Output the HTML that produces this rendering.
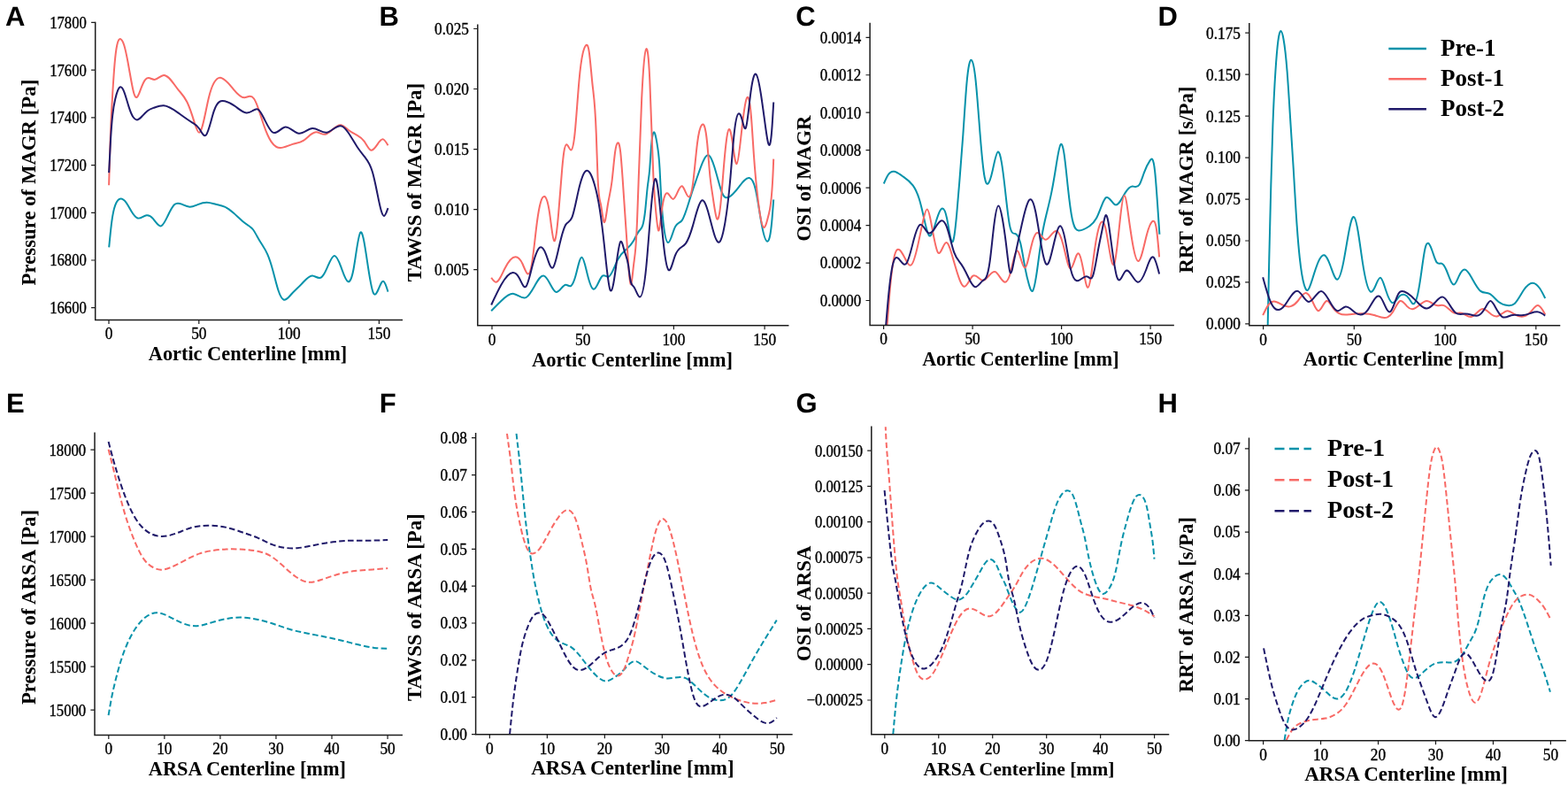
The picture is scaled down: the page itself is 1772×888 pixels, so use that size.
<!DOCTYPE html><html><head><meta charset="utf-8"><title>Figure</title><style>html,body{margin:0;padding:0;background:#fff}svg{display:block}.tk{font-family:"Liberation Serif",serif;font-size:17.3px;fill:#000;stroke:#000;stroke-width:0.35px}.lb{font-family:"Liberation Serif",serif;font-weight:bold;fill:#000}.lt{font-family:"Liberation Sans",sans-serif;font-weight:bold;font-size:31px;fill:#000;text-rendering:geometricPrecision}.ax{stroke:#1c1c1c;stroke-width:1.5;fill:none;stroke-linecap:square}.tm{stroke:#1c1c1c;stroke-width:1.2;fill:none}.cv{fill:none;stroke-width:2;stroke-linejoin:round}.ds{stroke-dasharray:6.6 3.3}</style></head><body>
<svg width="1772" height="888" viewBox="0 0 1772 888">
<rect width="1772" height="888" fill="#fff"/>
<defs>
<clipPath id="cA"><rect x="107.7" y="25.4" width="346.6" height="336.1"/></clipPath>
<clipPath id="cB"><rect x="539.8" y="28.2" width="350.9" height="339.6"/></clipPath>
<clipPath id="cC"><rect x="983.1" y="26.5" width="343" height="341.1"/></clipPath>
<clipPath id="cD"><rect x="1411.8" y="26.7" width="350.7" height="341"/></clipPath>
<clipPath id="cE"><rect x="107" y="489.3" width="347.2" height="341.3"/></clipPath>
<clipPath id="cF"><rect x="537.6" y="489.7" width="357.3" height="340"/></clipPath>
<clipPath id="cG"><rect x="984.8" y="482.3" width="335.7" height="347.4"/></clipPath>
<clipPath id="cH"><rect x="1411.5" y="495.3" width="357.6" height="341.4"/></clipPath>
</defs>
<g><g clip-path="url(#cA)"><path class="cv" stroke="#0792aa" d="M123.2 279.3C124.2 268.95 125.2 258.61 126.2 251C127.57 240.6 128.93 235.31 130.3 231.7C132.33 226.33 134.37 224.67 136.4 224.6C138.4 224.53 140.4 226.01 142.4 228.7C144.43 231.44 146.47 235.43 148.5 238.8C150.87 242.72 153.23 245.8 155.6 246.5C158.97 247.5 162.33 243.68 165.7 243.2C168.07 242.86 170.43 244.17 172.8 246.9C175.87 250.44 178.93 256.36 182 255.4C184.37 254.66 186.73 249.83 189.1 244.9C191.8 239.28 194.5 233.53 197.2 231.1C199.9 228.67 202.6 229.55 205.3 230.7C208.33 231.99 211.37 233.62 214.4 233.7C217.43 233.78 220.47 232.32 223.5 231.1C226.9 229.73 230.3 228.67 233.7 228.7C237.07 228.73 240.43 229.85 243.8 230.7C247.17 231.55 250.53 232.14 253.9 233.7C257.3 235.27 260.7 237.83 264.1 240.8C267.47 243.74 270.83 247.1 274.2 249.9C276.9 252.15 279.6 254.04 282.3 256C283.57 256.92 284.83 257.85 286.1 259.5C287.4 261.19 288.7 263.63 290 266C291.4 268.56 292.8 271.04 294.2 273.3C296.9 277.66 299.6 281.2 302.3 287.4C304.33 292.07 306.37 298.25 308.4 305.7C310.43 313.15 312.47 321.86 314.5 328C316.5 334.04 318.5 337.59 320.5 338.5C323.23 339.75 325.97 336.08 328.7 333C332.73 328.46 336.77 325.21 340.8 320.9C344.87 316.56 348.93 311.15 353 311.4C356.37 311.61 359.73 315.7 363.1 313.4C365.13 312.01 367.17 308.28 369.2 303.7C372.03 297.32 374.87 289.27 377.7 288.9C380.27 288.56 382.83 294.52 385.4 301.6C388.1 309.05 390.8 317.73 393.5 318.3C395.53 318.73 397.57 314.56 399.6 303.7C402.17 289.99 404.73 265.62 407.3 262.7C409.47 260.23 411.63 273.05 413.8 287.4C416.5 305.28 419.2 325.55 421.9 331C423.93 335.11 425.97 330.81 428 326C429.83 321.66 431.67 316.9 433.5 317.8C435.17 318.62 436.83 324.11 438.5 329.6"/><path class="cv" stroke="#f86a66" d="M123.1 209.3C123.63 190.43 124.17 171.56 124.7 156.6C125.53 133.22 126.37 119.38 127.2 106C128 93.15 128.8 80.72 129.6 71.5C130.47 61.51 131.33 55.3 132.2 51.2C133.57 44.74 134.93 43.53 136.3 44.1C137.63 44.66 138.97 46.9 140.3 51.2C141.67 55.61 143.03 62.17 144.4 69.5C145.73 76.65 147.07 84.52 148.4 91.8C149.43 97.44 150.47 102.73 151.5 106C152.5 109.17 153.5 110.45 154.5 110C155.87 109.39 157.23 105.56 158.6 101.9C160.3 97.35 162 93.08 163.7 90.7C165.03 88.83 166.37 88.13 167.7 88.1C169.97 88.05 172.23 89.94 174.5 89.9C178 89.84 181.5 85.19 185 84.9C190.4 84.45 195.8 94.37 201.2 101.1C204.6 105.34 208 108.31 211.4 115.3C214.1 120.85 216.8 128.93 219.5 137.6C221.37 143.59 223.23 149.86 225.1 149.7C228.63 149.39 232.17 126.02 235.7 111.2C240.43 91.35 245.17 86.86 249.9 87.9C254.6 88.93 259.3 95.41 264 101.1C268.07 106.03 272.13 110.37 276.2 110.2C278.23 110.12 280.27 108.9 282.3 108.8C283.87 108.72 285.43 109.3 287 111.5C288.73 113.94 290.47 118.36 292.2 123.4C294.2 129.21 296.2 135.84 298.2 141.6C300.93 149.47 303.67 155.7 306.4 159.9C308.4 162.97 310.4 164.95 312.4 166C315.1 167.41 317.8 167.13 320.5 166.4C323.9 165.48 327.3 163.87 330.7 162.9C334.73 161.75 338.77 161.51 342.8 158.9C347.53 155.84 352.27 149.51 357 149.3C360.4 149.15 363.8 152.15 367.2 151.8C369.9 151.52 372.6 149.13 375.3 146.7C378.67 143.67 382.03 140.59 385.4 141.2C388.1 141.69 390.8 144.56 393.5 146.7C396.9 149.4 400.3 150.94 403.7 152.8C406.4 154.27 409.1 155.94 411.8 159.9C414.17 163.37 416.53 168.59 418.9 169.6C421.27 170.61 423.63 167.39 426 163.9C428.33 160.46 430.67 156.75 433 157.4C434.83 157.91 436.67 161.1 438.5 164.3"/><path class="cv" stroke="#201a6a" d="M123.1 195.1C123.77 181.33 124.43 167.56 125.1 156.6C125.8 145.09 126.5 136.68 127.2 130.3C128.2 121.19 129.2 116.23 130.2 112C131.2 107.77 132.2 104.28 133.2 101.9C134.23 99.44 135.27 98.17 136.3 98.2C137.63 98.24 138.97 100.44 140.3 103.9C142 108.31 143.7 114.74 145.4 120.1C147.1 125.46 148.8 129.73 150.5 132.3C152.17 134.82 153.83 135.7 155.5 135.3C157.2 134.89 158.9 133.14 160.6 131.3C162.63 129.1 164.67 126.76 166.7 125.2C169.07 123.38 171.43 122.62 173.8 121.8C177.53 120.51 181.27 119.07 185 119.3C190.4 119.64 195.8 123.47 201.2 127.4C206.6 131.33 212 135.37 217.4 138.6C220.1 140.21 222.8 141.62 225.5 145.7C227.87 149.27 230.23 154.9 232.6 152.8C235.67 150.08 238.73 134.39 241.8 125.4C245.83 113.58 249.87 113.36 253.9 114.3C257.97 115.24 262.03 117.36 266.1 120.3C270.17 123.24 274.23 126.99 278.3 127.4C280.53 127.63 282.77 126.85 285 125.5C287.03 124.27 289.07 122.57 291.1 123.4C293.47 124.36 295.83 128.75 298.2 133.5C301.6 140.32 305 147.88 308.4 149.7C312.8 152.06 317.2 144.81 321.6 143.7C327 142.34 332.4 150.22 337.8 150.8C342.87 151.35 347.93 145.47 353 145.1C358.4 144.7 363.8 150.55 369.2 149.7C374.93 148.8 380.67 140.34 386.4 142.6C388.77 143.53 391.13 146.29 393.5 149.7C396.9 154.6 400.3 160.86 403.7 166C406.73 170.58 409.77 174.28 412.8 178.1C415.5 181.5 418.2 185.01 420.9 194.2C422.6 199.99 424.3 208.03 426 216.5C427.67 224.81 429.33 233.53 431 238.8C432.03 242.07 433.07 244.02 434.1 243.9C435.57 243.74 437.03 239.42 438.5 235.1"/></g><path class="ax" d="M107.7 25.4V361.5H454.3"/><path class="tm" d="M123 361.5v4.5M224.8 361.5v4.5M326.6 361.5v4.5M428.4 361.5v4.5M107.7 25.4h-4.6M107.7 79.12h-4.6M107.7 132.84h-4.6M107.7 186.56h-4.6M107.7 240.28h-4.6M107.7 294h-4.6M107.7 347.72h-4.6"/><text class="tk" transform="translate(123 383.3) scale(1.0 1.07)" text-anchor="middle">0</text><text class="tk" transform="translate(224.8 383.3) scale(1.0 1.07)" text-anchor="middle">50</text><text class="tk" transform="translate(326.6 383.3) scale(1.0 1.07)" text-anchor="middle">100</text><text class="tk" transform="translate(428.4 383.3) scale(1.0 1.07)" text-anchor="middle">150</text><text class="tk" transform="translate(97.9 31.8) scale(0.965 1.07)" text-anchor="end">17800</text><text class="tk" transform="translate(97.9 85.52) scale(0.965 1.07)" text-anchor="end">17600</text><text class="tk" transform="translate(97.9 139.24) scale(0.965 1.07)" text-anchor="end">17400</text><text class="tk" transform="translate(97.9 192.96) scale(0.965 1.07)" text-anchor="end">17200</text><text class="tk" transform="translate(97.9 246.68) scale(0.965 1.07)" text-anchor="end">17000</text><text class="tk" transform="translate(97.9 300.4) scale(0.965 1.07)" text-anchor="end">16800</text><text class="tk" transform="translate(97.9 354.12) scale(0.965 1.07)" text-anchor="end">16600</text><text class="lb" style="font-size:22.34px" x="280" y="406.8" text-anchor="middle">Aortic Centerline [mm]</text><text class="lb" style="font-size:22.8px" transform="translate(39.6 206.1) rotate(-90)" x="0" y="0" text-anchor="middle">Pressure of MAGR [Pa]</text><text class="lt" x="6" y="29.4">A</text></g>
<g><g clip-path="url(#cB)"><path class="cv" stroke="#0792aa" d="M555.2 351.2C558.93 347.41 562.67 343.63 566.4 340C571.1 335.43 575.8 331.12 580.5 331.9C585.23 332.68 589.97 338.63 594.7 336C598.1 334.11 601.5 327.8 604.9 321.8C608.13 316.1 611.37 310.67 614.6 311.6C616.77 312.22 618.93 315.69 621.1 319.7C623.47 324.08 625.83 329.1 628.2 329.9C631.9 331.14 635.6 322.05 639.3 321.8C641.33 321.66 643.37 324.19 645.4 322.8C647.1 321.63 648.8 317.73 650.5 311.6C652.87 303.07 655.23 290.25 657.6 290.7C659.63 291.09 661.67 301.28 663.7 309.6C666.07 319.29 668.43 326.45 670.8 326.8C674.17 327.29 677.53 314 680.9 311.6C683.27 309.92 685.63 313.62 688 312.6C691.37 311.15 694.73 300.14 698.1 293.4C701.5 286.59 704.9 284.12 708.3 281.2C710.87 278.99 713.43 276.53 716 272C718.07 268.36 720.13 263.38 722.2 261C724.57 258.28 726.93 258.97 729.3 236.6C730.17 228.41 731.03 217.12 731.9 210C732.7 203.43 733.5 200.4 734.3 190C734.7 184.8 735.1 177.75 735.5 172C737 150.42 738.5 146.98 740 150.6C741.13 153.33 742.27 160.1 743.4 167.8C744.1 172.56 744.8 177.67 745.5 190C745.83 195.87 746.17 203.38 746.5 210C747.5 229.87 748.5 241.81 749.5 250.8C751.33 267.28 753.17 273.85 755 274.1C757.57 274.45 760.13 262.4 762.7 256.9C765.4 251.11 768.1 252.57 770.8 248.8C774.2 244.05 777.6 231.03 781 220.4C782.17 216.75 783.33 213.39 784.5 210C786.83 203.22 789.17 196.32 791.5 190C794.73 181.24 797.97 173.56 801.2 175.6C803.23 176.88 805.27 182 807.3 188.5C809.33 195 811.37 202.89 813.4 210C814.07 212.33 814.73 214.58 815.4 216.4C818.1 223.76 820.8 224.04 823.5 222.8C827.57 220.94 831.63 215.64 835.7 210.3C839.4 205.44 843.1 200.53 846.8 201.1C849.17 201.46 851.53 204.06 853.9 214.3C856.27 224.54 858.63 242.41 861 254.9C863.03 265.63 865.07 272.38 867.1 272.7C868.8 272.96 870.5 268.73 872.2 250.8C872.87 243.77 873.53 234.64 874.2 225.5"/><path class="cv" stroke="#f86a66" d="M555.2 313.7C556.9 316.13 558.6 318.57 560.3 318.7C563.67 318.96 567.03 310.21 570.4 303.5C574.47 295.4 578.53 290.29 582.6 290.3C585.3 290.3 588 292.56 590.7 298.5C592.73 302.97 594.77 309.54 596.8 309.6C598.13 309.64 599.47 306.89 600.8 299.5C602.83 288.23 604.87 266.17 606.9 250.8C609.73 229.38 612.57 220.92 615.4 222C617.3 222.72 619.2 227.73 621.1 240.7C622.8 252.31 624.5 270.3 626.2 272.1C627.87 273.87 629.53 260.08 631.2 240.7C632.57 224.81 633.93 205.16 635.3 190C635.97 182.61 636.63 176.28 637.3 171.9C638.3 165.33 639.3 163.14 640.3 163.2C642 163.31 643.7 169.93 645.4 169.5C646.77 169.16 648.13 164.26 649.5 151.6C651.17 136.16 652.83 109.18 654.5 90.8C655.87 75.73 657.23 66.45 658.6 60.4C659.73 55.38 660.87 52.58 662 51.3C663.23 49.9 664.47 50.3 665.7 58.4C667.03 67.16 668.37 84.91 669.7 96.9C671.07 109.19 672.43 115.41 673.8 151.6C674.37 166.6 674.93 186.76 675.5 200C676.63 226.48 677.77 225.29 678.9 230.5C680.1 236.01 681.3 248.69 682.5 250.8C684 253.44 685.5 239.57 687 230.5C688.5 221.43 690 217.16 691.5 205C692.7 195.27 693.9 180.48 695.1 171.9C696.1 164.75 697.1 161.9 698.1 161.4C699.13 160.88 700.17 162.86 701.2 171.9C701.97 178.61 702.73 189.19 703.5 200C705.1 222.55 706.7 246.05 708.3 271.1C709.93 296.67 711.57 323.85 713.2 321C714.13 319.37 715.07 307.93 716 300C716.77 293.49 717.53 289.34 718.3 280C718.87 273.09 719.43 263.35 720 250C720.6 235.86 721.2 217.69 721.8 200C722.93 166.59 724.07 134.92 725.2 111.1C726.9 75.37 728.6 57.29 730.3 55.3C731.63 53.74 732.97 62.08 734.3 90.8C735.67 120.23 737.03 171.07 738.4 200C739.4 221.17 740.4 230.6 741.4 240.7C742.3 249.79 743.2 259.41 744.1 260.5C745.23 261.88 746.37 249.74 747.5 240.7C748.87 229.8 750.23 223.42 751.6 220.4C752.6 218.19 753.6 217.79 754.6 218.4C756.63 219.64 758.67 225.08 760.7 224.9C764.07 224.6 767.43 208.92 770.8 210.3C773.5 211.41 776.2 223.5 778.9 222.4C780.27 221.84 781.63 217.9 783 208C784.67 195.92 786.33 174.97 788 161.8C789.7 148.37 791.4 143.04 793.1 141.1C795.13 138.78 797.17 141.32 799.2 161.8C800.3 172.88 801.4 189.21 802.5 200C803.43 209.15 804.37 214.32 805.3 220.4C806.97 231.26 808.63 245.04 810.3 247.4C811.67 249.33 813.03 243.58 814.4 230.5C815.4 220.93 816.4 207.43 817.4 195C818.43 182.16 819.47 170.47 820.5 161.8C821.63 152.29 822.77 146.42 823.9 146C825.13 145.54 826.37 151.52 827.6 159.7C829.27 170.75 830.93 185.79 832.6 185.1C834.3 184.39 836 167.31 837.7 151.6C839.73 132.82 841.77 116.01 843.8 111.1C845.5 107 847.2 111.22 848.9 131.4C849.9 143.27 850.9 160.67 851.9 175C853.27 194.59 854.63 208.45 856 220.4C858.33 240.8 860.67 255.63 863 256.9C865.03 258 867.07 248.81 869.1 240.7C870.67 234.45 872.23 228.85 873.8 190C873.93 186.69 874.07 183.15 874.2 179.6"/><path class="cv" stroke="#201a6a" d="M555.2 344.5C558.93 336.46 562.67 328.43 566.4 321.8C570.77 314.05 575.13 308.23 579.5 308C581.87 307.87 584.23 309.39 586.6 313.7C589.17 318.38 591.73 326.34 594.3 323.8C596.47 321.66 598.63 312.03 600.8 303.5C603.87 291.43 606.93 281.55 610 279.6C612.33 278.11 614.67 281.21 617 287.3C619.57 294 622.13 304.31 624.7 302.5C626.87 300.97 629.03 290.79 631.2 281.2C633.9 269.25 636.6 258.2 639.3 253.9C641.67 250.13 644.03 251.53 646.4 245.7C648.77 239.87 651.13 226.8 653.5 216.4C656.2 204.53 658.9 196.13 661.6 193.6C665 190.41 668.4 196.54 671.8 208.2C673.8 215.06 675.8 223.83 677.8 236.6C679.5 247.45 681.2 261.19 682.9 277.2C685.13 298.23 687.37 323.18 689.6 327.8C691.77 332.29 693.93 317.64 696.1 301.5C697.8 288.83 699.5 275.24 701.2 273.1C702.87 271 704.53 279.91 706.2 285.3C707.47 289.4 708.73 291.47 710 299.5C710.77 304.36 711.53 311.41 712.3 315.7C713.57 322.79 714.83 322.34 716.1 323.8C718.47 326.52 720.83 335.86 723.2 335.6C725.57 335.34 727.93 325.48 730.3 301.5C731.97 284.61 733.63 260.73 735.3 240.7C737 220.27 738.7 203.85 740.4 202.2C742.1 200.55 743.8 213.66 745.5 230.5C747.17 247.01 748.83 267.1 750.5 281.2C752.2 295.58 753.9 303.72 755.6 305.1C757.97 307.02 760.33 295.83 762.7 289.3C766.77 278.07 770.83 280.59 774.9 275.1C777.6 271.46 780.3 264.29 783 254.9C786.37 243.19 789.73 228.02 793.1 226.5C795.8 225.28 798.5 232.83 801.2 242.7C805.13 257.08 809.07 276.36 813 273.5C815.17 271.92 817.33 263.62 819.5 250.8C821.5 238.96 823.5 223.28 825.5 200C826.87 184.09 828.23 164.65 829.6 151.6C831.3 135.37 833 129.05 834.7 128.3C836.03 127.72 837.37 130.56 838.7 135.4C840.07 140.36 841.43 147.41 842.8 144.5C844.47 140.95 846.13 122.6 847.8 109.1C849.97 91.54 852.13 82.18 854.3 83.7C856.2 85.03 858.1 94.73 860 107C861.7 117.98 863.4 131.01 865.1 143.5C866.23 151.83 867.37 159.91 868.5 162.8C869.73 165.95 870.97 162.95 872.2 147.6C872.87 139.3 873.53 127.4 874.2 115.5"/></g><path class="ax" d="M539.8 28.2V367.8H890.7"/><path class="tm" d="M556 367.8v4.5M658.7 367.8v4.5M761.4 367.8v4.5M864.1 367.8v4.5M539.8 32.5h-4.6M539.8 100.5h-4.6M539.8 168.6h-4.6M539.8 236.6h-4.6M539.8 304.7h-4.6"/><text class="tk" transform="translate(556 389.6) scale(1.0 1.07)" text-anchor="middle">0</text><text class="tk" transform="translate(658.7 389.6) scale(1.0 1.07)" text-anchor="middle">50</text><text class="tk" transform="translate(761.4 389.6) scale(1.0 1.07)" text-anchor="middle">100</text><text class="tk" transform="translate(864.1 389.6) scale(1.0 1.07)" text-anchor="middle">150</text><text class="tk" transform="translate(530 38.9) scale(1.0 1.07)" text-anchor="end">0.025</text><text class="tk" transform="translate(530 106.9) scale(1.0 1.07)" text-anchor="end">0.020</text><text class="tk" transform="translate(530 175) scale(1.0 1.07)" text-anchor="end">0.015</text><text class="tk" transform="translate(530 243) scale(1.0 1.07)" text-anchor="end">0.010</text><text class="tk" transform="translate(530 311.1) scale(1.0 1.07)" text-anchor="end">0.005</text><text class="lb" style="font-size:22.6px" x="714.5" y="413.6" text-anchor="middle">Aortic Centerline [mm]</text><text class="lb" style="font-size:22.8px" transform="translate(476.3 206.1) rotate(-90)" x="0" y="0" text-anchor="middle">TAWSS of MAGR [Pa]</text><text class="lt" x="428.5" y="29.4">B</text></g>
<g><g clip-path="url(#cC)"><path class="cv" stroke="#0792aa" d="M998.8 207.5C1000.27 204.03 1001.73 200.57 1003.2 198.2C1005.57 194.38 1007.93 193.42 1010.3 193.7C1013.37 194.07 1016.43 196.53 1019.5 198.7C1023.53 201.55 1027.57 203.9 1031.6 209.4C1033.97 212.63 1036.33 216.94 1038.7 224.5C1040.4 229.93 1042.1 237.04 1043.8 244.7C1045.83 253.86 1047.87 263.82 1049.9 266C1052.27 268.53 1054.63 260.53 1057 252.8C1059.7 243.99 1062.4 235.54 1065.1 235.6C1066.77 235.64 1068.43 238.92 1070.1 246.8C1072.47 257.99 1074.83 278.47 1077.2 272.1C1078.57 268.42 1079.93 255.78 1081.3 240.7C1082.3 229.66 1083.3 217.31 1084.3 205C1085.67 188.17 1087.03 171.41 1088.4 151.6C1089.73 132.27 1091.07 110.03 1092.4 94.9C1094.3 73.33 1096.2 66.19 1098.1 68.1C1099.6 69.61 1101.1 76.75 1102.6 90.8C1104.27 106.41 1105.93 130.55 1107.6 151.6C1109.3 173.08 1111 191.34 1112.7 200.3C1113.93 206.8 1115.17 208.39 1116.4 207.6C1118.2 206.44 1120 200.2 1121.8 192.2C1123.83 183.16 1125.87 171.87 1127.9 171.5C1129.27 171.25 1130.63 175.94 1132 184.1C1133.13 190.87 1134.27 200.03 1135.4 210C1137.3 226.71 1139.2 245.67 1141.1 254.9C1143.13 264.78 1145.17 263.52 1147.2 264C1149.23 264.48 1151.27 266.71 1153.3 275.1C1155.03 282.25 1156.77 293.87 1158.5 303C1160 310.9 1161.5 316.93 1163 322C1164.27 326.28 1165.53 329.87 1166.8 328.9C1168.63 327.5 1170.47 316.53 1172.3 303.5C1174 291.41 1175.7 277.55 1177.4 267C1179.07 256.66 1180.73 249.51 1182.4 242.7C1184.43 234.39 1186.47 226.58 1188.5 216.4C1190.2 207.89 1191.9 197.71 1193.6 187C1195.3 176.29 1197 165.03 1198.7 163.1C1200.03 161.58 1201.37 165.8 1202.7 174.9C1204.07 184.22 1205.43 198.68 1206.8 211.4C1208.47 226.92 1210.13 239.87 1211.8 247.8C1214.17 259.06 1216.53 260.2 1218.9 260.4C1222.97 260.75 1227.03 258.34 1231.1 255.5C1233.8 253.61 1236.5 251.53 1239.2 246.3C1241.23 242.36 1243.27 236.63 1245.3 231.6C1246.87 227.72 1248.43 224.26 1250 223.2C1253.5 220.84 1257 230.49 1260.5 231.4C1263.87 232.28 1267.23 225.08 1270.6 219.5C1273.63 214.48 1276.67 210.77 1279.7 210.6C1282.3 210.45 1284.9 212.9 1287.5 208.8C1289.3 205.96 1291.1 199.98 1292.9 195.1C1295.13 189.05 1297.37 184.69 1299.6 181.4C1301.43 178.7 1303.27 176.72 1305.1 193.1C1306.1 202.04 1307.1 216.43 1308.1 231C1308.87 242.17 1309.63 253.43 1310.4 264.7"/><path class="cv" stroke="#f86a66" d="M1002.2 372C1003.23 357.9 1004.27 343.8 1005.3 331.9C1006.97 312.7 1008.63 299.2 1010.3 291.4C1012.33 281.88 1014.37 280.83 1016.4 282.2C1018.43 283.57 1020.47 287.38 1022.5 291.4C1024.87 296.08 1027.23 301.06 1029.6 299.5C1032.3 297.72 1035 287.42 1037.7 275.1C1039.73 265.82 1041.77 255.39 1043.8 246.8C1045.13 241.17 1046.47 236.33 1047.8 236.6C1049.5 236.94 1051.2 245.58 1052.9 254.9C1055.27 267.88 1057.63 282.18 1060 285.3C1063.03 289.29 1066.07 274.9 1069.1 274.1C1071.47 273.48 1073.83 281.12 1076.2 289.3C1078.9 298.63 1081.6 308.64 1084.3 315.7C1086 320.15 1087.7 323.42 1089.4 323.8C1092.77 324.55 1096.13 313.94 1099.5 311.6C1103.23 309 1106.97 316.57 1110.7 316.7C1115.43 316.87 1120.17 305.08 1124.9 307.2C1128.6 308.85 1132.3 319 1136 318.7C1138.03 318.53 1140.07 315.21 1142.1 307.6C1144.47 298.74 1146.83 284.08 1149.2 283.2C1152.17 282.1 1155.13 302.66 1158.1 302.5C1160.47 302.37 1162.83 289.05 1165.2 279.2C1167.23 270.73 1169.27 264.82 1171.3 263.3C1174.53 260.88 1177.77 269.54 1181 270.6C1185.33 272.02 1189.67 259.76 1194 261C1196.57 261.73 1199.13 267.2 1201.7 277.2C1204.4 287.72 1207.1 303.24 1209.8 303.5C1212.83 303.79 1215.87 284.81 1218.9 286.3C1220.6 287.13 1222.3 294.4 1224 303.5C1225.83 313.32 1227.67 325.28 1229.5 324.8C1232.07 324.13 1234.63 299.08 1237.2 281.2C1239.57 264.72 1241.93 254.33 1244.3 251.3C1245.97 249.16 1247.63 250.67 1249.3 257.5C1252.7 271.43 1256.1 307.48 1259.5 297.4C1261.5 291.47 1263.5 269.57 1265.5 250.8C1267.2 234.84 1268.9 221.14 1270.6 221C1272.3 220.86 1274 234.28 1275.7 246.8C1279.2 272.57 1282.7 294.52 1286.2 295C1289.47 295.44 1292.73 277.18 1296 265C1298.33 256.3 1300.67 250.7 1303 249.8C1304.37 249.28 1305.73 250.37 1307.1 260C1308.1 267.05 1309.1 278.67 1310.1 290.3"/><path class="cv" stroke="#201a6a" d="M1000.8 372C1001.97 357.8 1003.13 343.6 1004.3 331.9C1005.97 315.19 1007.63 303.59 1009.3 297.4C1011 291.08 1012.7 290.39 1014.4 291.4C1017.77 293.4 1021.13 302.11 1024.5 297.4C1027.2 293.63 1029.9 281.23 1032.6 271.1C1034.97 262.22 1037.33 255.1 1039.7 253.9C1042.97 252.25 1046.23 261.91 1049.5 263.4C1054.37 265.63 1059.23 249.73 1064.1 249.2C1066.1 248.98 1068.1 251.35 1070.1 256.9C1072.77 264.29 1075.43 277.33 1078.1 284.9C1080.8 292.57 1083.5 294.63 1086.2 298.4C1088 300.91 1089.8 304.18 1091.6 307.8C1093.4 311.42 1095.2 315.39 1097 318.6C1098.6 321.45 1100.2 323.71 1101.8 324.1C1104.7 324.81 1107.6 319.42 1110.5 317.3C1111.87 316.3 1113.23 316.03 1114.6 313.2C1115.93 310.43 1117.27 305.23 1118.6 295.7C1120.2 284.27 1121.8 266.61 1123.4 253.8C1125.07 240.45 1126.73 232.36 1128.4 232.4C1129.87 232.44 1131.33 238.77 1132.8 247C1134.4 255.98 1136 267.22 1137.6 280.8C1138.93 292.12 1140.27 305.06 1141.6 307.8C1142.97 310.61 1144.33 302.69 1145.7 295.7C1147.03 288.88 1148.37 282.93 1149.7 276.8C1152.23 265.15 1154.77 252.85 1157.3 242.7C1159.93 232.15 1162.57 223.94 1165.2 225.3C1166.9 226.18 1168.6 231.05 1170.3 239.2C1172.2 248.31 1174.1 261.51 1176 273C1178.13 285.9 1180.27 296.66 1182.4 298.5C1185.1 300.83 1187.8 288.89 1190.5 277.2C1193.17 265.66 1195.83 254.37 1198.5 255.4C1200.23 256.07 1201.97 261.95 1203.7 270.6C1205.73 280.75 1207.77 294.73 1209.8 303.5C1212.17 313.71 1214.53 316.88 1216.9 317.3C1220.97 318.02 1225.03 310.62 1229.1 312.6C1231.1 313.57 1233.1 316.81 1235.1 311.6C1237.13 306.3 1239.17 292.26 1241.2 281.2C1242.9 271.95 1244.6 264.79 1246.3 256C1247.37 250.49 1248.43 244.34 1249.5 243.2C1251.47 241.1 1253.43 256.05 1255.4 271.1C1257.77 289.22 1260.13 307.49 1262.5 313.7C1265.53 321.65 1268.57 309.78 1271.6 306.6C1276.33 301.64 1281.07 317.87 1285.8 318.7C1288.83 319.23 1291.87 313.43 1294.9 305.5C1297.83 297.83 1300.77 288.16 1303.7 290.8C1305.83 292.72 1307.97 301.16 1310.1 309.6"/></g><path class="ax" d="M983.1 26.5V367.6H1326.1"/><path class="tm" d="M998.6 367.6v4.5M1099.1 367.6v4.5M1199.6 367.6v4.5M1300.1 367.6v4.5M983.1 42.3h-4.6M983.1 84.76h-4.6M983.1 127.22h-4.6M983.1 169.68h-4.6M983.1 212.14h-4.6M983.1 254.6h-4.6M983.1 297.06h-4.6M983.1 339.52h-4.6"/><text class="tk" transform="translate(998.6 389.4) scale(1.0 1.07)" text-anchor="middle">0</text><text class="tk" transform="translate(1099.1 389.4) scale(1.0 1.07)" text-anchor="middle">50</text><text class="tk" transform="translate(1199.6 389.4) scale(1.0 1.07)" text-anchor="middle">100</text><text class="tk" transform="translate(1300.1 389.4) scale(1.0 1.07)" text-anchor="middle">150</text><text class="tk" transform="translate(973.3 48.7) scale(0.98 1.07)" text-anchor="end">0.0014</text><text class="tk" transform="translate(973.3 91.16) scale(0.98 1.07)" text-anchor="end">0.0012</text><text class="tk" transform="translate(973.3 133.62) scale(0.98 1.07)" text-anchor="end">0.0010</text><text class="tk" transform="translate(973.3 176.08) scale(0.98 1.07)" text-anchor="end">0.0008</text><text class="tk" transform="translate(973.3 218.54) scale(0.98 1.07)" text-anchor="end">0.0006</text><text class="tk" transform="translate(973.3 261) scale(0.98 1.07)" text-anchor="end">0.0004</text><text class="tk" transform="translate(973.3 303.46) scale(0.98 1.07)" text-anchor="end">0.0002</text><text class="tk" transform="translate(973.3 345.92) scale(0.98 1.07)" text-anchor="end">0.0000</text><text class="lb" style="font-size:22.13px" x="1153.35" y="413.2" text-anchor="middle">Aortic Centerline [mm]</text><text class="lb" style="font-size:22.8px" transform="translate(915.8 201.5) rotate(-90)" x="0" y="0" text-anchor="middle">OSI of MAGR</text><text class="lt" x="899.3" y="29.4">C</text></g>
<g><g clip-path="url(#cD)"><path class="cv" stroke="#0792aa" d="M1432.7 367C1433.23 341.13 1433.77 315.27 1434.3 291.4C1434.97 261.57 1435.63 234.86 1436.3 210.2C1437 184.31 1437.7 160.68 1438.4 141.5C1439.4 114.1 1440.4 95.77 1441.4 80.7C1442.4 65.63 1443.4 53.81 1444.4 46.2C1445.43 38.33 1446.47 34.96 1447.5 35.1C1448.5 35.24 1449.5 38.67 1450.5 44.2C1451.87 51.75 1453.23 63.22 1454.6 80.7C1455.93 97.76 1457.27 120.54 1458.6 141.5C1459.63 157.74 1460.67 172.89 1461.7 190C1462.7 206.56 1463.7 224.95 1464.7 240.7C1466.07 262.23 1467.43 278.82 1468.8 291.4C1470.47 306.75 1472.13 316.13 1473.8 321.8C1475.17 326.45 1476.53 328.6 1477.9 327.8C1479.6 326.8 1481.3 321.22 1483 315.7C1485.33 308.12 1487.67 300.64 1490 295.4C1492.23 290.38 1494.47 287.41 1496.7 288.3C1498.87 289.16 1501.03 293.66 1503.2 299.5C1505.9 306.77 1508.6 316.12 1511.3 315.7C1513.67 315.33 1516.03 307.47 1518.4 295.4C1520.43 285.03 1522.47 271.57 1524.5 261C1526.33 251.47 1528.17 244.3 1530 245.1C1531.53 245.77 1533.07 252.01 1534.6 261C1536.3 270.96 1538 284.29 1539.7 295.4C1542.73 315.22 1545.77 327.95 1548.8 329.5C1550.83 330.54 1552.87 326.54 1554.9 321.8C1556.6 317.83 1558.3 313.34 1560 313.7C1562.03 314.13 1564.07 321.5 1566.1 327.8C1568.47 335.14 1570.83 341.02 1573.2 342C1576.2 343.24 1579.2 336.58 1582.2 334C1583.83 332.6 1585.47 332.4 1587.1 332.9C1588.77 333.41 1590.43 334.63 1592.1 337C1594.13 339.89 1596.17 344.5 1598.2 343C1599.57 341.99 1600.93 338.23 1602.3 331.9C1603.63 325.72 1604.97 317.11 1606.3 307.6C1607.67 297.86 1609.03 287.18 1610.4 281.2C1611.6 275.95 1612.8 274.31 1614 274.7C1615.5 275.18 1617 278.82 1618.5 283.2C1620.2 288.16 1621.9 294.07 1623.6 296.4C1625.6 299.15 1627.6 296.95 1629.6 297.8C1631.3 298.53 1633 301.46 1634.7 305.5C1637.6 312.4 1640.5 322.52 1643.4 321.4C1645.23 320.69 1647.07 315.49 1648.9 311.6C1650.93 307.29 1652.97 304.59 1655 304.5C1657.7 304.38 1660.4 308.87 1663.1 313.7C1666.47 319.72 1669.83 326.27 1673.2 328.9C1676.6 331.55 1680 330.21 1683.4 331.9C1686.77 333.57 1690.13 338.22 1693.5 341C1696.87 343.78 1700.23 344.68 1703.6 345.1C1706.3 345.44 1709 345.46 1711.7 343C1715.1 339.91 1718.5 332.88 1721.9 327.8C1725.27 322.77 1728.63 319.65 1732 319.7C1734.7 319.74 1737.4 321.81 1740.1 325.8C1742.13 328.81 1744.17 332.9 1746.2 337"/><path class="cv" stroke="#f86a66" d="M1427.2 356.2C1428.9 352.49 1430.6 348.79 1432.3 346.1C1434.67 342.36 1437.03 340.6 1439.4 340.4C1442.43 340.14 1445.47 342.44 1448.5 344.1C1451.87 345.95 1455.23 347.01 1458.6 346.1C1461.3 345.37 1464 343.37 1466.7 340C1469.77 336.17 1472.83 330.56 1475.9 330.9C1478.27 331.16 1480.63 334.96 1483 340C1485.33 344.97 1487.67 351.13 1490 351.2C1493.07 351.29 1496.13 340.83 1499.2 340C1501.23 339.45 1503.27 343.13 1505.3 346.1C1508 350.05 1510.7 352.75 1513.4 354.2C1517.43 356.36 1521.47 355.71 1525.5 355.2C1529.57 354.68 1533.63 354.31 1537.7 354.2C1543.1 354.06 1548.5 354.39 1553.9 356.2C1558.63 357.79 1563.37 360.52 1568.1 358.3C1570.13 357.34 1572.17 355.48 1574.2 352.2C1576.9 347.85 1579.6 341.02 1582.3 340C1584.9 339.01 1587.5 343.41 1590.1 346.1C1592.47 348.55 1594.83 349.59 1597.2 349.1C1602.27 348.05 1607.33 340 1612.4 340C1616.13 340 1619.87 344.38 1623.6 345.1C1626.3 345.62 1629 344.24 1631.7 345.1C1635.4 346.28 1639.1 351.69 1642.8 353.2C1645.83 354.44 1648.87 353.07 1651.9 353.8C1655.63 354.7 1659.37 358.79 1663.1 357.8C1667.17 356.72 1671.23 349.62 1675.3 349.1C1678.67 348.67 1682.03 352.75 1685.4 355.2C1687.77 356.93 1690.13 357.85 1692.5 357.2C1696.2 356.19 1699.9 351.34 1703.6 351.2C1706.3 351.1 1709 353.51 1711.7 355.2C1714.4 356.89 1717.1 357.86 1719.8 357.8C1723.2 357.72 1726.6 356.01 1730 352.2C1732.7 349.17 1735.4 344.82 1738.1 345.1C1740.8 345.38 1743.5 350.29 1746.2 355.2"/><path class="cv" stroke="#201a6a" d="M1427.2 313.3C1428.57 318.26 1429.93 323.23 1431.3 327.8C1432.97 333.38 1434.63 338.38 1436.3 342C1439 347.87 1441.7 350.13 1444.4 350.1C1447.1 350.07 1449.8 347.74 1452.5 344.1C1457.23 337.72 1461.97 327.29 1466.7 328.9C1470.77 330.28 1474.83 340.55 1478.9 341C1483.63 341.53 1488.37 328.77 1493.1 328.9C1495.8 328.97 1498.5 333.24 1501.2 338C1504.57 343.93 1507.93 350.62 1511.3 351.2C1514.37 351.72 1517.43 347.18 1520.5 346.5C1524.2 345.68 1527.9 350.51 1531.6 353.2C1536.33 356.64 1541.07 356.6 1545.8 350.1C1550.53 343.6 1555.27 330.65 1560 335.6C1563.7 339.47 1567.4 354.28 1571.1 352.2C1574.17 350.48 1577.23 337.15 1580.3 331.9C1582.57 328.02 1584.83 328.56 1587.1 329.5C1589.47 330.48 1591.83 331.91 1594.2 333.9C1596.9 336.17 1599.6 339.19 1602.3 342C1605.67 345.51 1609.03 348.7 1612.4 348.5C1615.43 348.32 1618.47 345.4 1621.5 342C1624.57 338.56 1627.63 334.64 1630.7 335.6C1632.7 336.23 1634.7 338.93 1636.7 342C1639.4 346.15 1642.1 350.96 1644.8 353.2C1648.2 356.02 1651.6 354.76 1655 354.6C1657.7 354.48 1660.4 355.05 1663.1 355.8C1665.8 356.55 1668.5 357.48 1671.2 356.2C1673.57 355.07 1675.93 352.25 1678.3 348.1C1680.33 344.54 1682.37 340 1684.4 340C1686.07 340 1687.73 343.05 1689.4 346.1C1692.1 351.05 1694.8 356.02 1697.5 357.8C1700.9 360.04 1704.3 357.22 1707.7 356.2C1711.73 354.99 1715.77 356.33 1719.8 356.2C1723.2 356.09 1726.6 354.93 1730 353.8C1733.03 352.79 1736.07 351.81 1739.1 352.6C1741.47 353.22 1743.83 354.91 1746.2 356.6"/></g><path class="ax" d="M1411.8 26.7V367.7H1762.5"/><path class="tm" d="M1427.6 367.7v4.5M1530.3 367.7v4.5M1633.1 367.7v4.5M1735.8 367.7v4.5M1411.8 37.2h-4.6M1411.8 84.16h-4.6M1411.8 131.12h-4.6M1411.8 178.08h-4.6M1411.8 225.04h-4.6M1411.8 272h-4.6M1411.8 318.96h-4.6M1411.8 365.92h-4.6"/><text class="tk" transform="translate(1427.6 389.5) scale(1.0 1.07)" text-anchor="middle">0</text><text class="tk" transform="translate(1530.3 389.5) scale(1.0 1.07)" text-anchor="middle">50</text><text class="tk" transform="translate(1633.1 389.5) scale(1.0 1.07)" text-anchor="middle">100</text><text class="tk" transform="translate(1735.8 389.5) scale(1.0 1.07)" text-anchor="middle">150</text><text class="tk" transform="translate(1402 43.6) scale(1.0 1.07)" text-anchor="end">0.175</text><text class="tk" transform="translate(1402 90.56) scale(1.0 1.07)" text-anchor="end">0.150</text><text class="tk" transform="translate(1402 137.52) scale(1.0 1.07)" text-anchor="end">0.125</text><text class="tk" transform="translate(1402 184.48) scale(1.0 1.07)" text-anchor="end">0.100</text><text class="tk" transform="translate(1402 231.44) scale(1.0 1.07)" text-anchor="end">0.075</text><text class="tk" transform="translate(1402 278.4) scale(1.0 1.07)" text-anchor="end">0.050</text><text class="tk" transform="translate(1402 325.36) scale(1.0 1.07)" text-anchor="end">0.025</text><text class="tk" transform="translate(1402 372.32) scale(1.0 1.07)" text-anchor="end">0.000</text><text class="lb" style="font-size:22.62px" x="1586.4" y="413.2" text-anchor="middle">Aortic Centerline [mm]</text><text class="lb" style="font-size:22.8px" transform="translate(1348.1 203) rotate(-90)" x="0" y="0" text-anchor="middle">RRT of MAGR [s/Pa]</text><text class="lt" x="1308.5" y="29.4">D</text></g>
<g><g clip-path="url(#cE)"><path class="cv ds" stroke="#0792aa" d="M122.6 808.1C123.8 801.01 125 793.93 126.2 787.8C127.57 780.82 128.93 775.08 130.3 769.6C132.33 761.44 134.37 753.86 136.4 747.3C138.77 739.67 141.13 733.42 143.5 728C146.53 721.05 149.57 715.44 152.6 710.8C155.97 705.65 159.33 701.68 162.7 698.7C167.43 694.51 172.17 692.27 176.9 692.2C180.97 692.14 185.03 693.67 189.1 695.6C194.5 698.16 199.9 701.4 205.3 703.7C211.03 706.14 216.77 707.51 222.5 707.2C228.27 706.89 234.03 704.86 239.8 703.1C245.87 701.24 251.93 699.67 258 698.7C262.73 697.94 267.47 697.55 272.2 697.6C278.53 697.67 284.87 698.55 291.2 699.9C296.6 701.06 302 702.56 307.4 704.3C314.17 706.48 320.93 709.03 327.7 711C334.47 712.97 341.23 714.36 348 715.7C354.77 717.04 361.53 718.32 368.3 719.7C375.03 721.07 381.77 722.54 388.5 724.2C395.27 725.87 402.03 727.73 408.8 729.3C413.53 730.4 418.27 731.36 423 731.9C428.07 732.48 433.13 732.59 438.2 732.7"/><path class="cv ds" stroke="#f86a66" d="M122.6 507.8C124.5 515.28 126.4 522.75 128.3 530.5C131.67 544.23 135.03 558.8 138.4 571.1C142.47 585.95 146.53 597.48 150.6 607.6C154.63 617.64 158.67 626.29 162.7 631.9C166.1 636.63 169.5 639.2 172.9 641C175.93 642.61 178.97 643.61 182 643.7C185.7 643.81 189.4 642.56 193.1 641C198.53 638.71 203.97 635.77 209.4 632.9C214.8 630.05 220.2 627.28 225.6 625.4C231 623.52 236.4 622.54 241.8 621.8C248.57 620.87 255.33 620.32 262.1 620.3C266.4 620.29 270.7 620.5 275 620.8C280.4 621.18 285.8 621.71 291.2 622.8C295.93 623.75 300.67 625.13 305.4 627.9C310.13 630.67 314.87 634.83 319.6 639.1C324.33 643.37 329.07 647.76 333.8 651.2C338.53 654.64 343.27 657.14 348 657.7C352.73 658.26 357.47 656.87 362.2 655.3C368.27 653.29 374.33 650.97 380.4 649.2C387.17 647.22 393.93 645.91 400.7 645.1C407.47 644.29 414.23 643.97 421 643.5C426.73 643.1 432.47 642.6 438.2 642.1"/><path class="cv ds" stroke="#201a6a" d="M122.6 499.1C124.5 506.35 126.4 513.61 128.3 520.4C131 530.05 133.7 538.77 136.4 546.8C139.77 556.81 143.13 565.74 146.5 573.1C150.57 581.99 154.63 588.6 158.7 593.4C162.73 598.16 166.77 601.15 170.8 603.1C174.87 605.07 178.93 605.98 183 606C188.4 606.03 193.8 604.49 199.2 602.5C205.3 600.25 211.4 597.44 217.5 595.8C224.23 593.99 230.97 593.62 237.7 593.8C244.47 593.98 251.23 594.71 258 596.4C263.4 597.74 268.8 599.69 274.2 601.5C279.87 603.39 285.53 605.13 291.2 607.6C296.6 609.95 302 612.97 307.4 615.1C312.13 616.97 316.87 618.15 321.6 618.8C326.33 619.45 331.07 619.58 335.8 619.2C342.57 618.66 349.33 617.07 356.1 615.7C362.87 614.33 369.63 613.16 376.4 612.3C383.13 611.44 389.87 610.88 396.6 610.7C403.37 610.52 410.13 610.73 416.9 610.7C424 610.67 431.1 610.39 438.2 610.1"/></g><path class="ax" d="M107 489.3V830.6H454.2"/><path class="tm" d="M122.8 830.6v4.5M185.85 830.6v4.5M248.9 830.6v4.5M311.95 830.6v4.5M375 830.6v4.5M438.05 830.6v4.5M107 508.1h-4.6M107 557.12h-4.6M107 606.14h-4.6M107 655.16h-4.6M107 704.18h-4.6M107 753.2h-4.6M107 802.22h-4.6"/><text class="tk" transform="translate(122.8 852.4) scale(1.0 1.07)" text-anchor="middle">0</text><text class="tk" transform="translate(185.85 852.4) scale(1.0 1.07)" text-anchor="middle">10</text><text class="tk" transform="translate(248.9 852.4) scale(1.0 1.07)" text-anchor="middle">20</text><text class="tk" transform="translate(311.95 852.4) scale(1.0 1.07)" text-anchor="middle">30</text><text class="tk" transform="translate(375 852.4) scale(1.0 1.07)" text-anchor="middle">40</text><text class="tk" transform="translate(438.05 852.4) scale(1.0 1.07)" text-anchor="middle">50</text><text class="tk" transform="translate(97.2 514.5) scale(0.967 1.07)" text-anchor="end">18000</text><text class="tk" transform="translate(97.2 563.52) scale(0.967 1.07)" text-anchor="end">17500</text><text class="tk" transform="translate(97.2 612.54) scale(0.967 1.07)" text-anchor="end">17000</text><text class="tk" transform="translate(97.2 661.56) scale(0.967 1.07)" text-anchor="end">16500</text><text class="tk" transform="translate(97.2 710.58) scale(0.967 1.07)" text-anchor="end">16000</text><text class="tk" transform="translate(97.2 759.6) scale(0.967 1.07)" text-anchor="end">15500</text><text class="tk" transform="translate(97.2 808.62) scale(0.967 1.07)" text-anchor="end">15000</text><text class="lb" style="font-size:22.32px" x="279.4" y="876.1" text-anchor="middle">ARSA Centerline [mm]</text><text class="lb" style="font-size:22.8px" transform="translate(39.6 686) rotate(-90)" x="0" y="0" text-anchor="middle">Pressure of ARSA [Pa]</text><text class="lt" x="7" y="466.4">E</text></g>
<g><g clip-path="url(#cF)"><path class="cv ds" stroke="#0792aa" d="M580.8 460C581.73 470.67 582.67 481.34 583.6 490.1C584.6 499.49 585.6 506.69 586.6 515.4C587.63 524.4 588.67 535.02 589.7 545.8C590.83 557.63 591.97 569.66 593.1 580.3C594.33 591.88 595.57 601.81 596.8 610.7C597.8 617.91 598.8 624.43 599.8 631C600.8 637.57 601.8 644.2 602.8 650C604.17 657.92 605.53 664.29 606.9 670.3C608.6 677.78 610.3 684.7 612 690.5C613.67 696.18 615.33 700.78 617 704.7C619.7 711.05 622.4 715.62 625.1 718.9C628.5 723.04 631.9 725.14 635.3 726.6C638.67 728.05 642.03 728.86 645.4 731.1C648.77 733.34 652.13 737.01 655.5 741.2C658.9 745.43 662.3 750.18 665.7 754.4C669.07 758.58 672.43 762.24 675.8 765.1C678.83 767.68 681.87 769.61 684.9 769.6C687.97 769.59 691.03 767.6 694.1 765.5C697.47 763.19 700.83 760.76 704.2 757.4C706.9 754.71 709.6 751.43 712.3 749.3C714.2 747.8 716.1 746.88 718 747C720.77 747.17 723.53 749.56 726.3 751.8C731 755.61 735.7 759.01 740.4 761.7C745.07 764.37 749.73 766.35 754.4 766.5C761 766.71 767.6 763.27 774.2 765.9C778.87 767.76 783.53 772.65 788.2 777.2C792.9 781.79 797.6 786.03 802.3 788.5C806.07 790.48 809.83 791.33 813.6 791.3C817.37 791.27 821.13 790.38 824.9 787C828.63 783.65 832.37 777.86 836.1 771.5C840.8 763.49 845.5 754.58 850.2 746.2C854.9 737.82 859.6 729.97 864.3 722.3C868.8 714.96 873.3 707.78 877.8 700.6"/><path class="cv ds" stroke="#f86a66" d="M569.5 460C570.67 470.6 571.83 481.2 573 490.1C574.17 499 575.33 506.18 576.5 515.4C577.83 525.93 579.17 539.11 580.5 549.9C582.2 563.66 583.9 573.53 585.6 582.3C587.63 592.79 589.67 601.7 591.7 608.7C593.4 614.56 595.1 619.08 596.8 621.8C598.8 625 600.8 625.69 602.8 625.3C605.17 624.84 607.53 622.88 609.9 619.8C613.63 614.95 617.37 607.32 621.1 600.5C624.47 594.35 627.83 588.85 631.2 584.3C634.23 580.2 637.27 576.89 640.3 576.2C642.67 575.66 645.03 576.73 647.4 580.3C649.1 582.86 650.8 586.72 652.5 592.4C654.2 598.08 655.9 605.59 657.6 612.7C659.63 621.21 661.67 629.14 663.7 641.1C665.03 648.94 666.37 658.51 667.7 665C669.07 671.66 670.43 675.08 671.8 680.4C673.8 688.18 675.8 700.01 677.8 710.8C679.83 721.77 681.87 731.67 683.9 739.2C686.27 747.97 688.63 753.54 691 757.4C693.37 761.26 695.73 763.42 698.1 763.5C700.47 763.58 702.83 761.57 705.2 756.4C707.57 751.23 709.93 742.9 712.3 735.1C713.37 731.59 714.43 728.18 715.5 724C718.17 713.55 720.83 698.25 723.5 684.2C726.3 669.45 729.1 656.06 731.9 642C734.73 627.77 737.57 612.84 740.4 602.5C743.2 592.28 746 586.54 748.8 586.2C751.63 585.85 754.47 591.02 757.3 599.7C760.1 608.27 762.9 620.27 765.7 633.5C768.53 646.89 771.37 661.55 774.2 675.8C777 689.88 779.8 703.56 782.6 715.2C786.37 730.86 790.13 742.83 793.9 751.8C798.6 762.99 803.3 769.51 808 774.4C812.67 779.25 817.33 782.49 822 785.1C826.7 787.73 831.4 789.71 836.1 791.3C840.8 792.89 845.5 794.1 850.2 794.6C854.9 795.1 859.6 794.9 864.3 794.1C868.8 793.33 873.3 792.02 877.8 790.7"/><path class="cv ds" stroke="#201a6a" d="M576.1 829.4C577.23 817.68 578.37 805.95 579.5 796C580.87 784 582.23 774.57 583.6 765.5C585.3 754.22 587 743.5 588.7 735.1C590.7 725.22 592.7 718.55 594.7 712.8C596.73 706.95 598.77 702.04 600.8 698.7C603.17 694.81 605.53 693.04 607.9 692.6C610.27 692.16 612.63 693.05 615 695.6C617.7 698.5 620.4 703.56 623.1 708.8C625.8 714.04 628.5 719.47 631.2 725C633.9 730.53 636.6 736.17 639.3 741.2C642 746.23 644.7 750.66 647.4 753.4C650.47 756.51 653.53 757.44 656.6 757C659.63 756.57 662.67 754.79 665.7 752.4C669.07 749.74 672.43 746.32 675.8 743.3C678.5 740.88 681.2 738.71 683.9 737.2C687.97 734.93 692.03 734.15 696.1 732.7C699.47 731.5 702.83 729.84 706.2 726C708.9 722.92 711.6 718.44 714.3 710.8C716.2 705.42 718.1 698.48 720 691.6C721.17 687.38 722.33 683.18 723.5 678.6C726.3 667.62 729.1 654.46 731.9 644.8C734.23 636.75 736.57 631.14 738.9 627.9C740.8 625.26 742.7 624.19 744.6 624.5C746.93 624.88 749.27 627.34 751.6 633.5C754.43 640.98 757.27 653.91 760.1 667.3C762.9 680.53 765.7 694.2 768.5 709.6C771.33 725.19 774.17 742.55 777 757.5C779.8 772.27 782.6 784.68 785.4 791.3C788.7 799.11 792 798.88 795.3 797.5C798.57 796.14 801.83 793.65 805.1 791.3C808.87 788.59 812.63 786.07 816.4 785.1C820.17 784.13 823.93 784.71 827.7 787C831.43 789.27 835.17 793.22 838.9 796.9C843.6 801.54 848.3 805.75 853 809.6C856.77 812.68 860.53 815.53 864.3 816.6C866.63 817.26 868.97 817.24 871.3 816.1C873.47 815.04 875.63 813.02 877.8 811"/></g><path class="ax" d="M537.6 489.7V829.7H894.9"/><path class="tm" d="M553.4 829.7v4.5M618.38 829.7v4.5M683.36 829.7v4.5M748.34 829.7v4.5M813.32 829.7v4.5M878.3 829.7v4.5M537.6 494.7h-4.6M537.6 536.56h-4.6M537.6 578.42h-4.6M537.6 620.28h-4.6M537.6 662.14h-4.6M537.6 704h-4.6M537.6 745.86h-4.6M537.6 787.72h-4.6M537.6 829.58h-4.6"/><text class="tk" transform="translate(553.4 851.5) scale(1.0 1.07)" text-anchor="middle">0</text><text class="tk" transform="translate(618.38 851.5) scale(1.0 1.07)" text-anchor="middle">10</text><text class="tk" transform="translate(683.36 851.5) scale(1.0 1.07)" text-anchor="middle">20</text><text class="tk" transform="translate(748.34 851.5) scale(1.0 1.07)" text-anchor="middle">30</text><text class="tk" transform="translate(813.32 851.5) scale(1.0 1.07)" text-anchor="middle">40</text><text class="tk" transform="translate(878.3 851.5) scale(1.0 1.07)" text-anchor="middle">50</text><text class="tk" transform="translate(527.8 501.1) scale(1.0 1.07)" text-anchor="end">0.08</text><text class="tk" transform="translate(527.8 542.96) scale(1.0 1.07)" text-anchor="end">0.07</text><text class="tk" transform="translate(527.8 584.82) scale(1.0 1.07)" text-anchor="end">0.06</text><text class="tk" transform="translate(527.8 626.68) scale(1.0 1.07)" text-anchor="end">0.05</text><text class="tk" transform="translate(527.8 668.54) scale(1.0 1.07)" text-anchor="end">0.04</text><text class="tk" transform="translate(527.8 710.4) scale(1.0 1.07)" text-anchor="end">0.03</text><text class="tk" transform="translate(527.8 752.26) scale(1.0 1.07)" text-anchor="end">0.02</text><text class="tk" transform="translate(527.8 794.12) scale(1.0 1.07)" text-anchor="end">0.01</text><text class="tk" transform="translate(527.8 835.98) scale(1.0 1.07)" text-anchor="end">0.00</text><text class="lb" style="font-size:22.96px" x="714.9" y="875.2" text-anchor="middle">ARSA Centerline [mm]</text><text class="lb" style="font-size:22.8px" transform="translate(476 686.2) rotate(-90)" x="0" y="0" text-anchor="middle">TAWSS of ARSA [Pa]</text><text class="lt" x="428.7" y="466.4">F</text></g>
<g><g clip-path="url(#cG)"><path class="cv ds" stroke="#0792aa" d="M1009.3 829.4C1010.33 817.71 1011.37 806.02 1012.4 796C1013.73 783.08 1015.07 772.94 1016.4 763.5C1018.1 751.47 1019.8 740.57 1021.5 731.1C1023.53 719.78 1025.57 710.5 1027.6 702.7C1030.3 692.34 1033 684.59 1035.7 678.4C1038.4 672.21 1041.1 667.6 1043.8 664.2C1046.5 660.8 1049.2 658.63 1051.9 658.5C1055.27 658.34 1058.63 661.36 1062 664.2C1065.4 667.06 1068.8 669.73 1072.2 672.3C1076.23 675.34 1080.27 678.24 1084.3 677.4C1087.7 676.69 1091.1 673.32 1094.5 668.2C1096.33 665.44 1098.17 662.16 1100 659C1102.5 654.69 1105 650.58 1107.5 646C1109 643.25 1110.5 640.34 1112 638C1114.27 634.47 1116.53 632.25 1118.8 632C1121.5 631.7 1124.2 634.18 1126.9 640.1C1128.27 643.1 1129.63 646.97 1131 650C1132.67 653.69 1134.33 656.12 1136 660C1137.03 662.41 1138.07 665.37 1139.1 668.2C1141.8 675.58 1144.5 682 1147.2 686.5C1149.2 689.83 1151.2 692.11 1153.2 691.7C1155.87 691.15 1158.53 685.81 1161.2 678.9C1164.37 670.7 1167.53 660.28 1170.7 649.2C1173.8 638.36 1176.9 626.88 1180 616C1182.03 608.87 1184.07 601.99 1186.1 594.9C1188.13 587.81 1190.17 580.51 1192.2 574.6C1194.57 567.73 1196.93 562.75 1199.3 559.4C1201.5 556.29 1203.7 554.59 1205.9 554.3C1208.07 554.01 1210.23 555.1 1212.4 559.4C1214.1 562.78 1215.8 568.14 1217.5 574.6C1218.87 579.79 1220.23 585.7 1221.6 590.8C1222.93 595.78 1224.27 599.99 1225.6 606C1226.67 610.81 1227.73 616.76 1228.8 622.2C1231.5 635.96 1234.2 646.4 1236.9 654.6C1239.77 663.31 1242.63 669.5 1245.5 670.8C1248.03 671.95 1250.57 669.27 1253.1 665.4C1255.8 661.28 1258.5 655.81 1261.2 643.8C1262.87 636.39 1264.53 626.49 1266.2 618.2C1268.23 608.09 1270.27 600.38 1272.3 592.9C1274.3 585.54 1276.3 578.41 1278.3 572.6C1280 567.66 1281.7 563.67 1283.4 561.4C1284.77 559.58 1286.13 558.86 1287.5 558.9C1288.83 558.94 1290.17 559.69 1291.5 561.4C1293.2 563.58 1294.9 567.32 1296.6 575.6C1297.77 581.28 1298.93 589.11 1300.1 595.9C1301.13 601.91 1302.17 607.12 1303.2 617.2C1303.63 621.43 1304.07 626.51 1304.5 631.6"/><path class="cv ds" stroke="#f86a66" d="M1000 460C1000.27 468.12 1000.53 476.25 1000.8 483C1001.6 503.26 1002.4 511.19 1003.2 520.5C1004.23 532.52 1005.27 546.85 1006.3 561.1C1007.3 574.89 1008.3 588.61 1009.3 601.6C1010.33 615.03 1011.37 627.68 1012.4 638.1C1013.27 646.84 1014.13 654.01 1015 660C1016.13 667.83 1017.27 673.62 1018.4 680.4C1020.1 690.57 1021.8 702.95 1023.5 712.8C1025.87 726.51 1028.23 735.33 1030.6 743.3C1032.97 751.27 1035.33 758.41 1037.7 762.5C1040.07 766.59 1042.43 767.65 1044.8 767.6C1047.83 767.54 1050.87 765.67 1053.9 761.5C1057.3 756.82 1060.7 749.25 1064.1 741.2C1067.47 733.22 1070.83 724.77 1074.2 716.9C1077.57 709.03 1080.93 701.73 1084.3 696.6C1088.03 690.92 1091.77 687.9 1095.5 687.5C1099.2 687.1 1102.9 689.27 1106.6 691.6C1110.67 694.16 1114.73 696.93 1118.8 696.2C1122.17 695.59 1125.53 692.59 1128.9 688.5C1132.3 684.37 1135.7 679.15 1139.1 674.3C1141.8 670.45 1144.5 666.83 1147.2 662.2C1150.07 657.28 1152.93 651.21 1155.8 646.5C1159.4 640.59 1163 636.81 1166.6 634.3C1170.2 631.79 1173.8 630.53 1177.4 630.8C1181 631.07 1184.6 632.88 1188.2 635.7C1191.83 638.54 1195.47 642.42 1199.1 646.5C1202.7 650.55 1206.3 654.8 1209.9 658.6C1213.5 662.4 1217.1 665.74 1220.7 668.1C1225.2 671.05 1229.7 672.46 1234.2 673.5C1238.7 674.54 1243.2 675.23 1247.7 676.2C1253.1 677.37 1258.5 678.96 1263.9 680.3C1269.3 681.64 1274.7 682.72 1280.1 684.3C1284.6 685.62 1289.1 687.29 1293.6 689.7C1297.23 691.65 1300.87 694.07 1304.5 696.5"/><path class="cv ds" stroke="#201a6a" d="M999.6 554C1000.47 563.23 1001.33 572.46 1002.2 581.4C1003.23 592.06 1004.27 602.3 1005.3 611.8C1006.5 622.83 1007.7 632.86 1008.9 640.1C1009.87 645.93 1010.83 649.95 1011.8 655C1013 661.26 1014.2 669.11 1015.4 676.4C1017.43 688.76 1019.47 699.54 1021.5 708.8C1023.87 719.58 1026.23 728.29 1028.6 735.1C1031.3 742.87 1034 748.18 1036.7 751.4C1039.4 754.62 1042.1 755.77 1044.8 755.4C1047.83 754.98 1050.87 752.65 1053.9 749.3C1057.3 745.55 1060.7 740.52 1064.1 733.1C1067.47 725.75 1070.83 716.06 1074.2 704.7C1076.9 695.59 1079.6 685.41 1082.3 676.4C1083.87 671.17 1085.43 666.33 1087 660C1089.5 649.9 1092 635.99 1094.5 626C1097.2 615.21 1099.9 608.97 1102.6 603.7C1105.3 598.43 1108 594.11 1110.7 591.5C1112.73 589.53 1114.77 588.52 1116.8 588.5C1119.5 588.47 1122.2 590.16 1124.9 595.5C1126.93 599.52 1128.97 605.6 1131 611.8C1133 617.9 1135 624.12 1137 636.1C1138 642.09 1139 649.53 1140 655C1141.7 664.31 1143.4 667.95 1145.1 674.3C1147.13 681.89 1149.17 693.34 1151.2 702.7C1153.57 713.6 1155.93 721.67 1158.3 729.1C1161.07 737.79 1163.83 745.6 1166.6 750.5C1169.3 755.28 1172 757.29 1174.7 756.8C1177.4 756.31 1180.1 753.33 1182.8 746.5C1185.5 739.67 1188.2 728.99 1190.9 716.8C1194.07 702.5 1197.23 686.11 1200.4 673.5C1203.57 660.89 1206.73 652.06 1209.9 646.5C1212.4 642.11 1214.9 639.75 1217.4 639.7C1220.3 639.65 1223.2 642.71 1226.1 649.2C1229.23 656.22 1232.37 667.24 1235.5 676.2C1238.67 685.25 1241.83 692.2 1245 696.5C1248.17 700.8 1251.33 702.47 1254.5 702.7C1258.53 703 1262.57 700.97 1266.6 697.8C1271.1 694.26 1275.6 689.28 1280.1 685.7C1283.7 682.83 1287.3 680.85 1290.9 681.1C1293.63 681.29 1296.37 682.75 1299.1 687C1300.9 689.8 1302.7 693.8 1304.5 697.8"/></g><path class="ax" d="M984.8 482.3V829.7H1320.5"/><path class="tm" d="M999.8 829.7v4.5M1060.76 829.7v4.5M1121.72 829.7v4.5M1182.68 829.7v4.5M1243.64 829.7v4.5M1304.6 829.7v4.5M984.8 509.1h-4.6M984.8 549.37h-4.6M984.8 589.64h-4.6M984.8 629.91h-4.6M984.8 670.18h-4.6M984.8 710.45h-4.6M984.8 750.72h-4.6M984.8 790.99h-4.6"/><text class="tk" transform="translate(999.8 851.5) scale(1.0 1.07)" text-anchor="middle">0</text><text class="tk" transform="translate(1060.76 851.5) scale(1.0 1.07)" text-anchor="middle">10</text><text class="tk" transform="translate(1121.72 851.5) scale(1.0 1.07)" text-anchor="middle">20</text><text class="tk" transform="translate(1182.68 851.5) scale(1.0 1.07)" text-anchor="middle">30</text><text class="tk" transform="translate(1243.64 851.5) scale(1.0 1.07)" text-anchor="middle">40</text><text class="tk" transform="translate(1304.6 851.5) scale(1.0 1.07)" text-anchor="middle">50</text><text class="tk" transform="translate(975 515.5) scale(0.96 1.07)" text-anchor="end">0.00150</text><text class="tk" transform="translate(975 555.77) scale(0.96 1.07)" text-anchor="end">0.00125</text><text class="tk" transform="translate(975 596.04) scale(0.96 1.07)" text-anchor="end">0.00100</text><text class="tk" transform="translate(975 636.31) scale(0.96 1.07)" text-anchor="end">0.00075</text><text class="tk" transform="translate(975 676.58) scale(0.96 1.07)" text-anchor="end">0.00050</text><text class="tk" transform="translate(975 716.85) scale(0.96 1.07)" text-anchor="end">0.00025</text><text class="tk" transform="translate(975 757.12) scale(0.96 1.07)" text-anchor="end">0.00000</text><text class="tk" transform="translate(975 797.39) scale(0.96 1.07)" text-anchor="end">−0.00025</text><text class="lb" style="font-size:21.62px" x="1151.55" y="876.1" text-anchor="middle">ARSA Centerline [mm]</text><text class="lb" style="font-size:22.8px" transform="translate(915.7 681.8) rotate(-90)" x="0" y="0" text-anchor="middle">OSI of ARSA</text><text class="lt" x="899.5" y="466.4">G</text></g>
<g><g clip-path="url(#cH)"><path class="cv ds" stroke="#0792aa" d="M1451.6 836.2C1452.67 829.37 1453.73 822.54 1454.8 817C1456.23 809.55 1457.67 804.43 1459.1 799.8C1461.23 792.9 1463.37 787.09 1465.5 782.7C1467.63 778.31 1469.77 775.34 1471.9 773.1C1474.4 770.47 1476.9 768.85 1479.4 768.8C1481.9 768.75 1484.4 770.28 1486.9 772C1490.47 774.45 1494.03 777.27 1497.6 780.6C1501.9 784.62 1506.2 789.38 1510.5 789.6C1514.07 789.78 1517.63 786.84 1521.2 780.6C1524.4 775 1527.6 766.76 1530.8 757C1534 747.24 1537.2 735.96 1540.4 724.9C1543.27 714.99 1546.13 705.24 1549 697.1C1552.2 688.01 1555.4 680.91 1558.6 680C1561.1 679.29 1563.6 682.35 1566.1 687.5C1568.97 693.41 1571.83 702.05 1574.7 712.1C1576.47 718.29 1578.23 725.01 1580 731C1582.03 737.89 1584.07 743.81 1586.1 749.2C1588.13 754.59 1590.17 759.45 1592.2 762.4C1594.9 766.32 1597.6 766.89 1600.3 765.8C1603 764.71 1605.7 761.96 1608.4 759.4C1612.47 755.54 1616.53 752.1 1620.6 750.2C1624.63 748.32 1628.67 747.96 1632.7 748.2C1636.77 748.44 1640.83 749.28 1644.9 747.2C1647.6 745.82 1650.3 743.16 1653 739.1C1655.7 735.04 1658.4 729.6 1661.1 724.9C1664.47 719.04 1667.83 714.33 1671.2 700.6C1672.57 695.02 1673.93 687.96 1675.3 682C1677.33 673.13 1679.37 666.7 1681.4 662.2C1683.43 657.7 1685.47 655.13 1687.5 653.1C1689.87 650.74 1692.23 649.11 1694.6 649C1696.97 648.89 1699.33 650.28 1701.7 653.1C1704.07 655.92 1706.43 660.16 1708.8 664.2C1711.13 668.19 1713.47 671.98 1715.8 677C1719.2 684.32 1722.6 694.24 1726 704.6C1729.37 714.85 1732.73 725.53 1736.1 735C1738.8 742.6 1741.5 749.42 1744.2 757.3C1746.77 764.79 1749.33 773.25 1751.9 781.7"/><path class="cv ds" stroke="#f86a66" d="M1453.7 836.2C1456.2 831.39 1458.7 826.58 1461.2 823.4C1464.07 819.75 1466.93 818.24 1469.8 817C1473.37 815.46 1476.93 814.36 1480.5 813.7C1486.2 812.65 1491.9 812.74 1497.6 811.6C1501.9 810.74 1506.2 809.17 1510.5 806.3C1514.07 803.92 1517.63 800.64 1521.2 795.5C1524.77 790.36 1528.33 783.37 1531.9 776.3C1535.47 769.23 1539.03 762.1 1542.6 757C1545.8 752.43 1549 749.5 1552.2 749.5C1555.4 749.5 1558.6 752.43 1561.8 759.2C1564.67 765.26 1567.53 774.4 1570.4 782.7C1573.6 791.96 1576.8 800.17 1580 801.5C1581.37 802.07 1582.73 801.38 1584.1 797.9C1585.77 793.65 1587.43 785.24 1589.1 773.5C1590.8 761.52 1592.5 746.07 1594.2 731C1595.9 715.93 1597.6 701.24 1599.3 686.4C1600.3 677.67 1601.3 668.88 1602.3 660C1602.97 654.08 1603.63 648.11 1604.3 641.9C1605.67 629.17 1607.03 615.42 1608.4 601.4C1609.73 587.73 1611.07 573.8 1612.4 560.8C1613.77 547.47 1615.13 535.12 1616.5 526.4C1617.87 517.68 1619.23 512.6 1620.6 509.1C1621.4 507.05 1622.2 505.55 1623 505.1C1624.2 504.43 1625.4 506.15 1626.6 509.1C1627.97 512.46 1629.33 517.41 1630.7 526.4C1632.03 535.17 1633.37 547.79 1634.7 560.8C1636.07 574.13 1637.43 587.88 1638.8 601.4C1640.17 614.92 1641.53 628.21 1642.9 641.9C1643.53 648.24 1644.17 654.67 1644.8 662C1645.83 673.96 1646.87 688.31 1647.9 700.6C1649.6 720.83 1651.3 735.48 1653 747.2C1655.37 763.51 1657.73 774.12 1660.1 781.7C1662.47 789.28 1664.83 793.85 1667.2 793.8C1669.57 793.75 1671.93 789.09 1674.3 781.7C1676.67 774.31 1679.03 764.17 1681.4 755.3C1684.1 745.18 1686.8 736.69 1689.5 728.9C1692.87 719.18 1696.23 710.55 1699.6 702.6C1703 694.58 1706.4 687.26 1709.8 682.3C1713.17 677.39 1716.53 674.79 1719.9 673.2C1722.6 671.92 1725.3 671.29 1728 671.8C1731.4 672.44 1734.8 674.89 1738.2 678.2C1740.9 680.83 1743.6 684.01 1746.3 688.4C1748.3 691.65 1750.3 695.58 1752.3 699.5"/><path class="cv ds" stroke="#201a6a" d="M1428.1 732.4C1429.5 739.24 1430.9 746.09 1432.3 752.7C1434.1 761.2 1435.9 769.31 1437.7 776.3C1439.83 784.58 1441.97 791.27 1444.1 797.7C1446.6 805.23 1449.1 812.4 1451.6 817C1454.47 822.27 1457.33 824.16 1460.2 824.4C1463.03 824.64 1465.87 823.28 1468.7 821.2C1471.93 818.82 1475.17 815.51 1478.4 810.5C1481.97 804.97 1485.53 797.38 1489.1 789.1C1492.67 780.82 1496.23 771.86 1499.8 763.4C1504.07 753.29 1508.33 743.9 1512.6 735.6C1516.87 727.3 1521.13 720.08 1525.4 714.2C1530.4 707.3 1535.4 702.24 1540.4 699.2C1543.97 697.03 1547.53 695.9 1551.1 695C1554.67 694.1 1558.23 693.42 1561.8 693.9C1565.37 694.38 1568.93 696 1572.5 698.2C1575 699.74 1577.5 701.57 1580 704.6C1582.03 707.07 1584.07 710.33 1586.1 714.7C1588.13 719.07 1590.17 724.55 1592.2 731C1594.2 737.35 1596.2 744.64 1598.2 751.2C1600.23 757.87 1602.27 763.78 1604.3 769.5C1607 777.1 1609.7 784.37 1612.4 791.8C1615.47 800.24 1618.53 808.87 1621.6 810C1623.97 810.87 1626.33 807.27 1628.7 801.9C1631.4 795.77 1634.1 787.33 1636.8 779.6C1639.5 771.87 1642.2 764.85 1644.9 757.3C1646.6 752.54 1648.3 747.58 1650 744.1C1652 740.01 1654 737.98 1656 738.1C1658.37 738.24 1660.73 741.37 1663.1 745.2C1665.8 749.57 1668.5 754.83 1671.2 759.4C1674.27 764.59 1677.33 768.89 1680.4 769.5C1682.77 769.97 1685.13 768.25 1687.5 759.4C1689.17 753.17 1690.83 743.39 1692.5 733C1694.2 722.4 1695.9 711.15 1697.6 702.6C1699.3 694.05 1701 688.2 1702.7 677C1704.03 668.22 1705.37 656.14 1706.7 646C1708.4 633.07 1710.1 623.3 1711.8 611.5C1713.83 597.39 1715.87 580.39 1717.9 566.9C1719.93 553.41 1721.97 543.43 1724 534.5C1725.67 527.18 1727.33 520.56 1729 516.2C1730.7 511.76 1732.4 509.67 1734.1 509.1C1735.8 508.53 1737.5 509.49 1739.2 516.2C1740.53 521.47 1741.87 530.28 1743.2 540.6C1744.57 551.18 1745.93 563.35 1747.3 577C1748.3 586.99 1749.3 597.76 1750.3 609.5C1751.1 618.89 1751.9 628.89 1752.7 638.9"/></g><path class="ax" d="M1411.5 495.3V836.7H1769.1"/><path class="tm" d="M1427.6 836.7v4.5M1492.56 836.7v4.5M1557.52 836.7v4.5M1622.48 836.7v4.5M1687.44 836.7v4.5M1752.4 836.7v4.5M1411.5 506.8h-4.6M1411.5 553.93h-4.6M1411.5 601.06h-4.6M1411.5 648.19h-4.6M1411.5 695.32h-4.6M1411.5 742.45h-4.6M1411.5 789.58h-4.6M1411.5 836.71h-4.6"/><text class="tk" transform="translate(1427.6 858.5) scale(1.0 1.07)" text-anchor="middle">0</text><text class="tk" transform="translate(1492.56 858.5) scale(1.0 1.07)" text-anchor="middle">10</text><text class="tk" transform="translate(1557.52 858.5) scale(1.0 1.07)" text-anchor="middle">20</text><text class="tk" transform="translate(1622.48 858.5) scale(1.0 1.07)" text-anchor="middle">30</text><text class="tk" transform="translate(1687.44 858.5) scale(1.0 1.07)" text-anchor="middle">40</text><text class="tk" transform="translate(1752.4 858.5) scale(1.0 1.07)" text-anchor="middle">50</text><text class="tk" transform="translate(1401.7 513.2) scale(1.0 1.07)" text-anchor="end">0.07</text><text class="tk" transform="translate(1401.7 560.33) scale(1.0 1.07)" text-anchor="end">0.06</text><text class="tk" transform="translate(1401.7 607.46) scale(1.0 1.07)" text-anchor="end">0.05</text><text class="tk" transform="translate(1401.7 654.59) scale(1.0 1.07)" text-anchor="end">0.04</text><text class="tk" transform="translate(1401.7 701.72) scale(1.0 1.07)" text-anchor="end">0.03</text><text class="tk" transform="translate(1401.7 748.85) scale(1.0 1.07)" text-anchor="end">0.02</text><text class="tk" transform="translate(1401.7 795.98) scale(1.0 1.07)" text-anchor="end">0.01</text><text class="tk" transform="translate(1401.7 843.11) scale(1.0 1.07)" text-anchor="end">0.00</text><text class="lb" style="font-size:22.99px" x="1589.1" y="882.2" text-anchor="middle">ARSA Centerline [mm]</text><text class="lb" style="font-size:22.8px" transform="translate(1348 683.2) rotate(-90)" x="0" y="0" text-anchor="middle">RRT of ARSA [s/Pa]</text><text class="lt" x="1308.5" y="466.4">H</text></g>
<line x1="1569.3" y1="55" x2="1611.9" y2="55" stroke="#0792aa" stroke-width="2.6"/><line x1="1569.3" y1="89.2" x2="1611.9" y2="89.2" stroke="#f86a66" stroke-width="2.6"/><line x1="1569.3" y1="123.2" x2="1611.9" y2="123.2" stroke="#201a6a" stroke-width="2.6"/><text class="lb" style="font-size:27px" x="1628" y="62.8">Pre-1</text><text class="lb" style="font-size:27px" x="1628" y="96.6">Post-1</text><text class="lb" style="font-size:27px" x="1628" y="130.6">Post-2</text>
<line x1="1440.5" y1="507" x2="1481.9" y2="507" stroke="#0792aa" stroke-width="2.6" stroke-dasharray="11 5.5"/><line x1="1440.5" y1="542.2" x2="1481.9" y2="542.2" stroke="#f86a66" stroke-width="2.6" stroke-dasharray="11 5.5"/><line x1="1440.5" y1="577.3" x2="1481.9" y2="577.3" stroke="#201a6a" stroke-width="2.6" stroke-dasharray="11 5.5"/><text class="lb" style="font-size:28.2px" x="1500" y="514.9">Pre-1</text><text class="lb" style="font-size:28.2px" x="1500" y="550">Post-1</text><text class="lb" style="font-size:28.2px" x="1500" y="585.1">Post-2</text>
</svg></body></html>
